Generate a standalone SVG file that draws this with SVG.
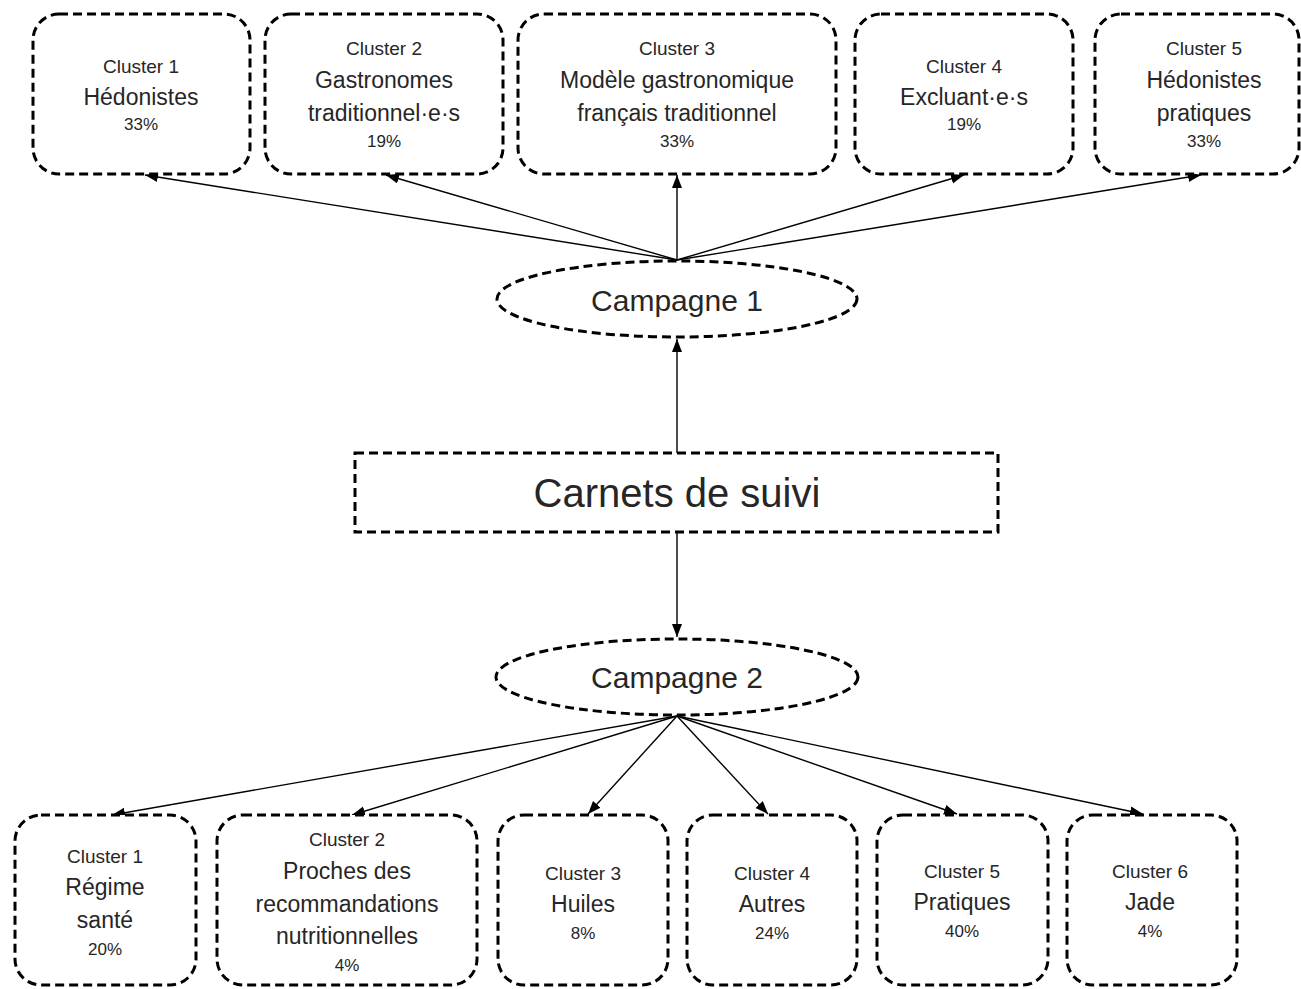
<svg xmlns="http://www.w3.org/2000/svg" width="1301" height="989" viewBox="0 0 1301 989">
<style>
.box{fill:#fff;stroke:#000;stroke-width:3;stroke-dasharray:9 5}
.con{stroke:#000;stroke-width:1.4;fill:none;marker-end:url(#ah)}
text{font-family:"Liberation Sans",Arial,sans-serif;fill:#262626;text-anchor:middle;dominant-baseline:central}
.s{font-size:19px}
.m{font-size:23px}
.p{font-size:17px}
.c{font-size:30px}
.big{font-size:40px}
</style>
<defs>
<marker id="ah" markerUnits="userSpaceOnUse" markerWidth="14" markerHeight="12" refX="13" refY="5" orient="auto">
<path d="M0,0 L13,5 L0,10 z" fill="#000"/>
</marker>
</defs>
<rect width="1301" height="989" fill="#fff"/>
<g id="connectors">
<line class="con" x1="677" y1="260" x2="145" y2="175"/>
<line class="con" x1="677" y1="260" x2="386" y2="175"/>
<line class="con" x1="677" y1="260" x2="677" y2="175"/>
<line class="con" x1="677" y1="260" x2="964" y2="175"/>
<line class="con" x1="677" y1="260" x2="1201" y2="175"/>
<line class="con" x1="677" y1="453" x2="677" y2="339"/>
<line class="con" x1="677" y1="532" x2="677" y2="637"/>
<line class="con" x1="677" y1="716" x2="112" y2="815"/>
<line class="con" x1="677" y1="716" x2="352" y2="815"/>
<line class="con" x1="677" y1="716" x2="588" y2="814"/>
<line class="con" x1="677" y1="716" x2="768" y2="814"/>
<line class="con" x1="677" y1="716" x2="957" y2="814"/>
<line class="con" x1="677" y1="716" x2="1143" y2="814"/>
</g>
<g id="t1"><rect class="box" x="33" y="14" width="217" height="160" rx="26"/>
<text class="s" x="141" y="66">Cluster 1</text><text class="m" x="141" y="97">Hédonistes</text><text class="p" x="141" y="124">33%</text></g>
<g id="t2"><rect class="box" x="265" y="14" width="238" height="160" rx="26"/>
<text class="s" x="384" y="48">Cluster 2</text><text class="m" x="384" y="80">Gastronomes</text><text class="m" x="384" y="113">traditionnel·e·s</text><text class="p" x="384" y="141">19%</text></g>
<g id="t3"><rect class="box" x="518" y="14" width="318" height="160" rx="26"/>
<text class="s" x="677" y="48">Cluster 3</text><text class="m" x="677" y="80">Modèle gastronomique</text><text class="m" x="677" y="113">français traditionnel</text><text class="p" x="677" y="141">33%</text></g>
<g id="t4"><rect class="box" x="855" y="14" width="218" height="160" rx="26"/>
<text class="s" x="964" y="66">Cluster 4</text><text class="m" x="964" y="97">Excluant·e·s</text><text class="p" x="964" y="124">19%</text></g>
<g id="t5"><rect class="box" x="1095" y="14" width="204" height="160" rx="26"/>
<text class="s" x="1204" y="48">Cluster 5</text><text class="m" x="1204" y="80">Hédonistes</text><text class="m" x="1204" y="113">pratiques</text><text class="p" x="1204" y="141">33%</text></g>
<g id="campagne1"><ellipse class="box" cx="677" cy="299" rx="180" ry="38"/><text class="c" x="677" y="300">Campagne 1</text></g>
<g id="carnets"><rect class="box" x="355" y="453" width="643" height="79"/><text class="big" x="677" y="493">Carnets de suivi</text></g>
<g id="campagne2"><ellipse class="box" cx="677" cy="677" rx="181" ry="38"/><text class="c" x="677" y="677">Campagne 2</text></g>
<g id="b1"><rect class="box" x="15" y="815" width="181" height="170" rx="26"/>
<text class="s" x="105" y="856">Cluster 1</text><text class="m" x="105" y="887">Régime</text><text class="m" x="105" y="920">santé</text><text class="p" x="105" y="949">20%</text></g>
<g id="b2"><rect class="box" x="217" y="815" width="260" height="170" rx="26"/>
<text class="s" x="347" y="839">Cluster 2</text><text class="m" x="347" y="871">Proches des</text><text class="m" x="347" y="904">recommandations</text><text class="m" x="347" y="936">nutritionnelles</text><text class="p" x="347" y="965">4%</text></g>
<g id="b3"><rect class="box" x="498" y="815" width="170" height="170" rx="26"/>
<text class="s" x="583" y="873">Cluster 3</text><text class="m" x="583" y="904">Huiles</text><text class="p" x="583" y="933">8%</text></g>
<g id="b4"><rect class="box" x="687" y="815" width="170" height="170" rx="26"/>
<text class="s" x="772" y="873">Cluster 4</text><text class="m" x="772" y="904">Autres</text><text class="p" x="772" y="933">24%</text></g>
<g id="b5"><rect class="box" x="877" y="815" width="171" height="170" rx="26"/>
<text class="s" x="962" y="871">Cluster 5</text><text class="m" x="962" y="902">Pratiques</text><text class="p" x="962" y="931">40%</text></g>
<g id="b6"><rect class="box" x="1067" y="815" width="170" height="170" rx="26"/>
<text class="s" x="1150" y="871">Cluster 6</text><text class="m" x="1150" y="902">Jade</text><text class="p" x="1150" y="931">4%</text></g>
</svg>
